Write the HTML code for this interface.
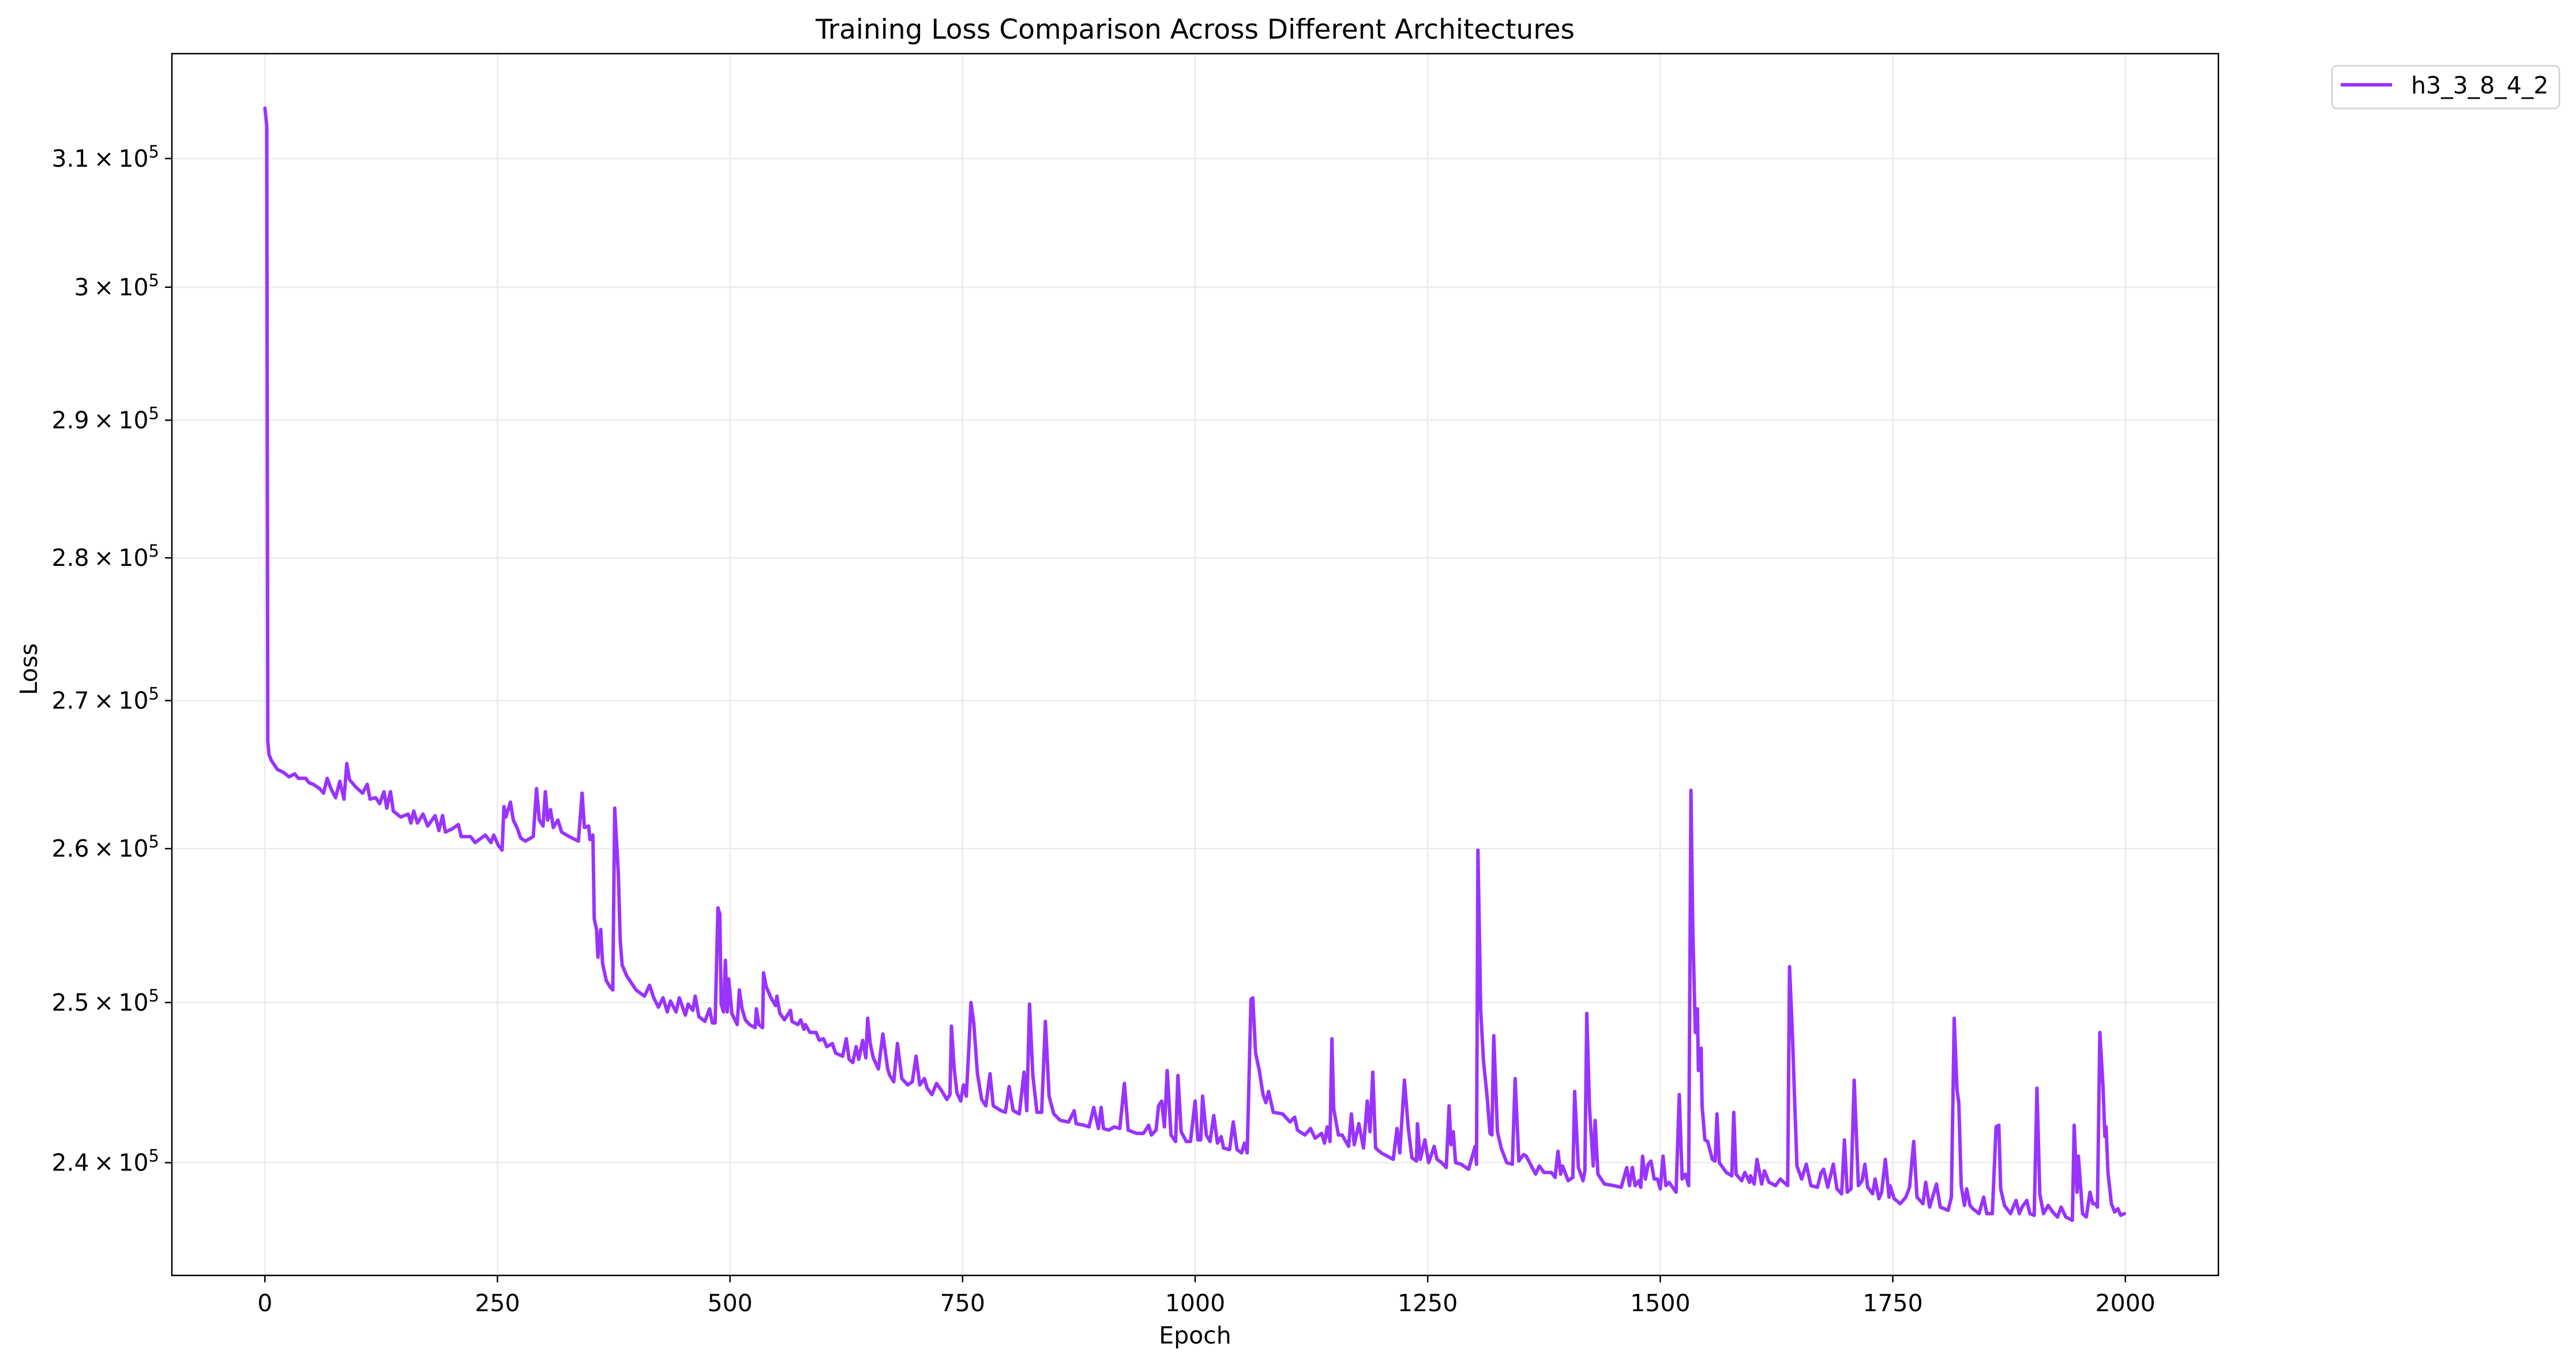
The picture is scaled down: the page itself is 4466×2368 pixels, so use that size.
<!DOCTYPE html>
<html><head><meta charset="utf-8">
<style>
html,body{margin:0;padding:0;background:#fff;}
svg{display:block;font-family:"DejaVu Sans","Liberation Sans",sans-serif;}
</style></head>
<body>
<svg id="chart" width="4466" height="2368" viewBox="0 0 4466 2368" xmlns="http://www.w3.org/2000/svg">
<rect x="0" y="0" width="4466" height="2368" fill="#fff"/>
<g id="grid"></g>
<g id="series"></g>
<rect x="298" y="93" width="3548" height="2118" fill="none" stroke="#000" stroke-width="2.5"/>
<g id="ticks"></g>
<text x="2072" y="67" font-size="47" text-anchor="middle">Training Loss Comparison Across Different Architectures</text>
<text x="2072" y="2329" font-size="41" text-anchor="middle">Epoch</text>
<text x="0" y="0" font-size="41" text-anchor="middle" transform="translate(64,1160) rotate(-90)">Loss</text>
<g>
<rect x="4043" y="114" width="394" height="74" rx="8" fill="#fff" stroke="#d6d6d6" stroke-width="3"/>
<line x1="4058" y1="147" x2="4147" y2="147" stroke="#9933ff" stroke-width="6"/>
<text x="4180" y="162" font-size="41">h3_3_8_4_2</text>
</g>
</svg>
<script>
const xTicks = [0, 250, 500, 750, 1000, 1250, 1500, 1750, 2000];
const yTicks = [2.4, 2.5, 2.6, 2.7, 2.8, 2.9, 3.0, 3.1];
const yTickLabels = ["2.4", "2.5", "2.6", "2.7", "2.8", "2.9", "3", "3.1"];
const seriesName = "h3_3_8_4_2";
const unit = 1e5;
const epochs = [0,2,3.1,4.4,7,13.5,20,26,32,36,44,47.5,52,59,63,67,71,76,80.5,85,88,91,98,105,110,113,119,123.5,128,131,135,138,146,154,157,160,164,170,175,183,187,191,194,201,208,211,221,226,237,243,246,251,255,257,259,264,267,271,275,280,288.5,292,295,299,301.5,304,307,310,315,319,327,337,341,343.5,348,349.5,352.6,354,356.5,358,361,363,367,371,374,376,380,382,384,389,399,408,413.5,418,423,428,432.5,436,442,445.5,452,455,460,462.6,466.5,473,478,481,484,487,
489,490.5,493,495,497,498.6,502,504.4,507.7,510,513,516.4,521,527,528.4,531,535,536,539,544,549,550.4,553.6,558.5,565,566.6,573,576,579.5,581,586,592.5,596,600.5,604,610,613.5,621,625,628,632,635.5,638.4,642.6,646,648,650.7,654,659.5,664.3,669.5,671.7,676,680,684.7,691,696,700,704,709,712,717,722,728,733,736.5,738,741,744,748,751,754,757,759,762,766,770.5,775,779.5,783,791.5,796,800,804.4,811,816,819,822,825.5,830,835,839,843,848,855,864,870,872,880.5,886,891,896,899,901.5,907,913,919,924,928,937,944.5,950,953,958,960.7,964,967,970,974,979,981.5,985,
990.5,995,1000,1003,1006,1008,1012,1016,1020,1024,1028,1030.5,1037,1041,1045,1050,1053,1056,1060,1062,1065,1069,1073,1076,1079,1084,1094,1102,1107,1110,1118,1124,1129,1136,1139,1142,1145,1147,1149,1154,1158,1165,1168,1171,1176,1181,1185,1188,1191,1194,1200,1213,1217,1220,1225,1229,1233,1238,1239,1242,1247,1251,1257,1260,1265,1270,1273,1275,1277.5,1280,1286,1294,1301,1302.5,1304,1307,1310,1314,1317,1319,1321,1325,1329,1335,1341,1344,1348,1353,1356,1366,1370,1375,1383,1387,1390,1393,1395,1401,1406,1408,1412,1417,1419,1421,1424,1428,1430,1433,1440,1450,1458,1464,1467,1470,1473,1477,1479,1481,1484,1487,1490,1493.5,
1497,1500,1503,1506,1509.5,1517,1520.5,1523.5,1527,1530.5,1533,1535,1537.7,1540,1541,1544,1545,1548,1551,1556,1559,1561,1563.5,1571,1577,1579,1581.5,1587.5,1591,1596,1597,1601,1604,1609,1612,1617,1624,1629,1637,1639,1642,1644.5,1647,1652,1657,1662,1669,1673,1675.6,1680,1686,1690,1695,1698,1701,1705,1708.5,1713,1717,1720,1723,1728.3,1731,1735,1738,1742,1746,1747,1751.5,1758,1764,1768,1772.5,1776,1782.4,1785.4,1789.6,1797,1801,1809.5,1813,1816,1819,1821,1823.5,1827,1829.4,1833,1836,1842.7,1847.7,1851,1857,1861,1864,1866,1870,1876.5,1882.5,1886,1889,1894,1897.4,1902,1905,1908,1912,1917,1922,1927,1931,1936,1943,1945,1948,1949.5,1954,1958,1962,1965,1968,1970,1972.6,1976,1978,1979.3,1981.3,1985,1988.5,1992,1995,1999];
const losses = [3.140,3.126,2.672,2.663,2.659,2.653,2.651,2.648,2.650,2.647,2.647,2.644,2.643,2.640,2.637,2.647,2.640,2.634,2.645,2.633,2.657,2.646,2.641,2.637,2.643,2.633,2.634,2.630,2.638,2.627,2.638,2.625,2.621,2.623,2.617,2.625,2.617,2.623,2.615,2.622,2.612,2.622,2.611,2.613,2.616,2.608,2.608,2.604,2.609,2.604,2.609,2.602,2.599,2.628,2.621,2.631,2.619,2.614,2.607,2.605,2.608,2.640,2.619,2.615,2.638,2.619,2.626,2.614,2.619,2.611,2.608,2.605,2.637,2.614,2.615,2.606,2.609,2.554,2.547,2.529,2.547,2.525,2.514,2.510,2.508,2.627,2.583,2.540,2.524,2.517,2.508,2.504,2.511,2.503,2.497,2.503,2.494,2.501,2.494,2.503,2.492,2.499,2.495,2.504,2.491,2.488,2.496,2.487,2.487,2.561,
2.557,2.499,2.494,2.527,2.494,2.515,2.493,2.490,2.486,2.508,2.496,2.489,2.486,2.484,2.496,2.486,2.484,2.519,2.510,2.503,2.498,2.504,2.493,2.489,2.495,2.488,2.486,2.489,2.483,2.486,2.481,2.481,2.476,2.477,2.472,2.474,2.468,2.466,2.477,2.464,2.462,2.472,2.464,2.476,2.465,2.490,2.474,2.465,2.458,2.480,2.458,2.454,2.450,2.474,2.452,2.448,2.450,2.466,2.448,2.452,2.446,2.442,2.449,2.444,2.439,2.442,2.485,2.458,2.443,2.438,2.448,2.441,2.474,2.500,2.487,2.455,2.439,2.435,2.455,2.435,2.432,2.431,2.447,2.432,2.430,2.456,2.432,2.499,2.454,2.431,2.431,2.488,2.441,2.430,2.426,2.425,2.432,2.424,2.423,2.422,2.434,2.421,2.434,2.421,2.420,2.422,2.421,2.449,2.420,2.418,2.418,2.423,2.417,2.420,2.435,2.438,2.422,2.457,2.417,2.413,2.454,2.419,
2.413,2.413,2.438,2.414,2.414,2.441,2.417,2.413,2.429,2.412,2.416,2.409,2.408,2.425,2.408,2.406,2.412,2.406,2.502,2.503,2.468,2.457,2.442,2.437,2.444,2.431,2.430,2.425,2.428,2.420,2.417,2.421,2.415,2.418,2.412,2.422,2.413,2.477,2.433,2.417,2.417,2.410,2.430,2.411,2.424,2.409,2.438,2.419,2.456,2.409,2.406,2.402,2.421,2.406,2.451,2.422,2.403,2.401,2.424,2.402,2.414,2.400,2.410,2.402,2.400,2.397,2.435,2.411,2.419,2.400,2.399,2.396,2.410,2.399,2.599,2.495,2.463,2.440,2.418,2.417,2.479,2.419,2.409,2.400,2.399,2.452,2.401,2.405,2.404,2.393,2.398,2.394,2.394,2.391,2.407,2.393,2.398,2.389,2.391,2.444,2.397,2.389,2.395,2.493,2.433,2.398,2.426,2.393,2.387,2.386,2.385,2.397,2.386,2.397,2.386,2.389,2.385,2.404,2.390,2.399,2.401,2.390,
2.390,2.384,2.404,2.386,2.388,2.382,2.442,2.390,2.393,2.386,2.639,2.547,2.481,2.496,2.457,2.471,2.435,2.414,2.413,2.402,2.401,2.430,2.400,2.394,2.392,2.431,2.393,2.389,2.394,2.388,2.392,2.387,2.402,2.387,2.395,2.388,2.386,2.390,2.386,2.523,2.481,2.438,2.398,2.390,2.399,2.386,2.385,2.394,2.396,2.385,2.399,2.384,2.381,2.414,2.382,2.384,2.451,2.386,2.389,2.399,2.385,2.381,2.390,2.378,2.382,2.402,2.379,2.386,2.378,2.375,2.379,2.385,2.413,2.379,2.375,2.388,2.373,2.387,2.373,2.371,2.379,2.490,2.445,2.437,2.386,2.374,2.384,2.374,2.372,2.369,2.379,2.369,2.369,2.422,2.423,2.384,2.374,2.369,2.377,2.369,2.373,2.377,2.369,2.368,2.446,2.381,2.369,2.374,2.370,2.367,2.373,2.367,2.365,2.423,2.382,2.404,2.369,2.367,2.382,2.375,2.375,2.373,2.481,2.447,2.416,2.422,2.394,2.375,2.370,2.372,2.368,2.369];

const NS = "http://www.w3.org/2000/svg";
const L = 298, R = 3846, T = 93, B = 2211;
const xMin = -100, xMax = 2100;
const yMin = 2.332e5, yMax = 3.184e5;
function xScale(v){ return L + (v - xMin) / (xMax - xMin) * (R - L); }
function yScale(v){ return B - (Math.log(v) - Math.log(yMin)) / (Math.log(yMax) - Math.log(yMin)) * (B - T); }
function mk(tag, attrs, parent){
  const e = document.createElementNS(NS, tag);
  for (const k in attrs) e.setAttribute(k, attrs[k]);
  parent.appendChild(e);
  return e;
}
const grid = document.getElementById('grid');
const ticks = document.getElementById('ticks');
const series = document.getElementById('series');

xTicks.forEach(t => {
  const x = xScale(t);
  const g = mk('line', {x1:x, x2:x, y1:T, y2:B, stroke:'#ebebeb', 'stroke-width':2.5}, grid);
  
  
  const tk = mk('line', {x1:x, x2:x, y1:B, y2:B+12, stroke:'#000', 'stroke-width':2.5}, ticks);
  
  
  const lb = mk('text', {x:x, y:2273, 'font-size':41, 'text-anchor':'middle'}, ticks);
  lb.textContent = String(t);
  
  
});

yTicks.forEach((t, i) => {
  const y = yScale(t * unit);
  const g = mk('line', {x1:L, x2:R, y1:y, y2:y, stroke:'#ebebeb', 'stroke-width':2.5}, grid);
  
  
  const tk = mk('line', {x1:L-12, x2:L, y1:y, y2:y, stroke:'#000', 'stroke-width':2.5}, ticks);
  
  
  const lb = mk('text', {x:L-22, y:y+14, 'font-size':41, 'text-anchor':'end'}, ticks);
  
  
  const t1 = mk('tspan', {}, lb); t1.textContent = yTickLabels[i] + '\u2009\u00d7\u200910';
  const t2 = mk('tspan', {dy:-16, 'font-size':29}, lb); t2.textContent = '5';
});

let d = '';
epochs.forEach((e, i) => {
  d += (i ? 'L' : 'M') + xScale(e).toFixed(1) + ',' + yScale(losses[i] * unit).toFixed(1);
});
const path = mk('path', {d:d, fill:'none', stroke:'#9933ff', 'stroke-width':6, 'stroke-linejoin':'round', 'stroke-linecap':'round'}, series);


</script>
</body></html>
